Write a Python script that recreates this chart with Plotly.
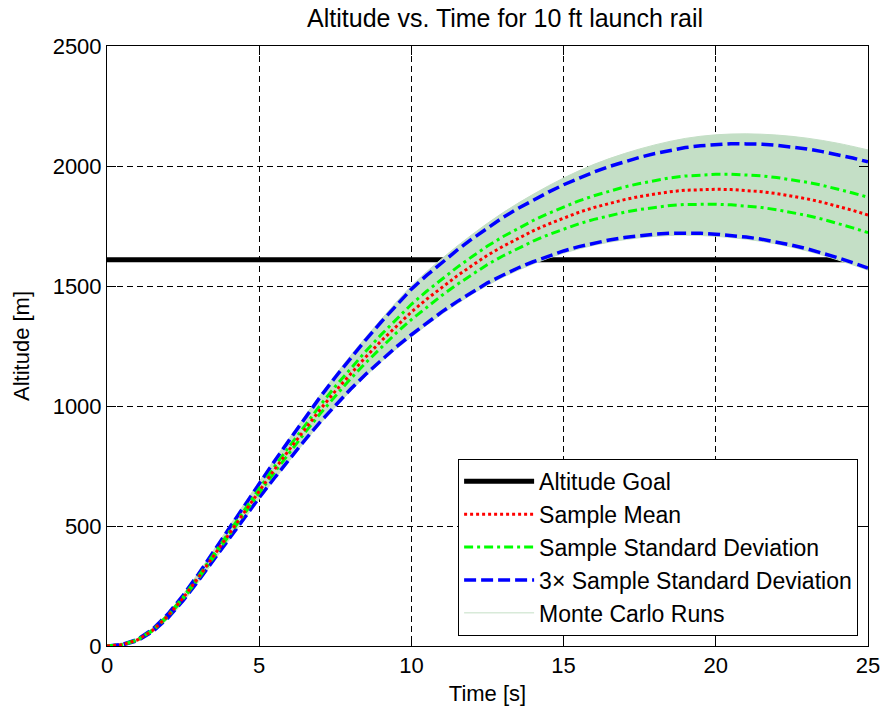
import plotly.graph_objects as go

# ---------------- data ----------------
time_s = [i * 0.5 for i in range(51)]  # 0 .. 25 s

sample_mean = [0, 5, 25, 65, 125, 200, 285, 375, 468, 560,
               648, 735, 820, 904, 985, 1062, 1135, 1204, 1270, 1333,
               1392, 1445, 1495, 1542, 1586, 1628, 1665, 1699, 1730, 1758,
               1784, 1807, 1827, 1845, 1860, 1873, 1884, 1893, 1899, 1902,
               1903, 1902, 1898, 1893, 1885, 1875, 1863, 1849, 1833, 1815,
               1796]

sample_std = [0, 0.3, 1, 1.7, 2.7, 3.7, 4.7, 6, 7.3, 8.7,
              10, 11.7, 13.3, 15.3, 17.3, 19.3, 21.7, 24, 26.3, 29,
              31.7, 33, 34.3, 35.7, 37, 38.3, 40, 41.3, 43, 44.3,
              46, 47.7, 49.3, 51, 52.7, 54.3, 56, 57.7, 59.3, 60.7,
              62.3, 63.7, 64.7, 66, 67, 68.3, 69.3, 70.3, 71.7, 72.7,
              73.7]

# envelope of the Monte Carlo runs (1 s spacing)
mc_time = list(range(26))
mc_top = [3, 32, 138, 304, 496, 685, 868, 1046, 1210, 1360,
          1500, 1614, 1715, 1805, 1882, 1950, 2007, 2052, 2088, 2115,
          2130, 2134, 2129, 2116, 2095, 2067]
mc_bottom = [0, 19, 112, 266, 440, 612, 773, 926, 1062, 1183,
             1288, 1383, 1466, 1536, 1592, 1637, 1670, 1693, 1707, 1712,
             1707, 1695, 1675, 1646, 1609, 1566]

goal_time = [0, 25]
altitude_goal = 1609

x_ticks = [0, 5, 10, 15, 20, 25]
y_ticks = [0, 500, 1000, 1500, 2000, 2500]

# ---------------- figure ----------------
FONT = "Liberation Sans, Arial, sans-serif"
MC_COLOR = "#c4dfc6"

fig = go.Figure()

# Altitude goal
fig.add_trace(go.Scatter(
    x=goal_time, y=[altitude_goal] * len(goal_time), mode="lines",
    line=dict(color="black", width=5), name="Altitude Goal", legendrank=1))

# Monte Carlo band
fig.add_trace(go.Scatter(
    x=mc_time, y=mc_bottom, mode="lines", line=dict(color=MC_COLOR, width=1, shape="spline"),
    showlegend=False, hoverinfo="skip"))
fig.add_trace(go.Scatter(
    x=mc_time, y=mc_top, mode="lines", line=dict(color=MC_COLOR, width=1, shape="spline"),
    fill="tonexty", fillcolor=MC_COLOR, showlegend=False, hoverinfo="skip"))
fig.add_trace(go.Scatter(
    x=[None], y=[None], mode="lines", line=dict(color=MC_COLOR, width=1),
    name="Monte Carlo Runs", legendrank=5))

# 3x sample std
up3 = [m + 3 * s for m, s in zip(sample_mean, sample_std)]
lo3 = [m - 3 * s for m, s in zip(sample_mean, sample_std)]
fig.add_trace(go.Scatter(
    x=time_s, y=up3, mode="lines", line=dict(color="#0000ff", width=3.5, dash="12px,5px"),
    name="3\u00d7 Sample Standard Deviation", legendgroup="s3", legendrank=4))
fig.add_trace(go.Scatter(
    x=time_s, y=lo3, mode="lines", line=dict(color="#0000ff", width=3.5, dash="12px,5px"),
    legendgroup="s3", showlegend=False))

# 1x sample std
up1 = [m + s for m, s in zip(sample_mean, sample_std)]
lo1 = [m - s for m, s in zip(sample_mean, sample_std)]
fig.add_trace(go.Scatter(
    x=time_s, y=up1, mode="lines", line=dict(color="#00ff00", width=3, dash="9px,4px,3px,4px"),
    name="Sample Standard Deviation", legendgroup="s1", legendrank=3))
fig.add_trace(go.Scatter(
    x=time_s, y=lo1, mode="lines", line=dict(color="#00ff00", width=3, dash="9px,4px,3px,4px"),
    legendgroup="s1", showlegend=False))

# sample mean
fig.add_trace(go.Scatter(
    x=time_s, y=sample_mean, mode="lines", line=dict(color="#ff0000", width=3, dash="3px,3px"),
    name="Sample Mean", legendrank=2))

axis_common = dict(
    showline=True, linecolor="black", linewidth=1, mirror="ticks",
    ticks="inside", ticklen=9, tickcolor="black", tickwidth=1,
    showgrid=True, gridcolor="black", gridwidth=1, griddash="6px,4px",
    zeroline=False, tickfont=dict(family=FONT, size=22, color="black"),
    automargin=False, ticklabeloverflow="allow",
)

fig.update_xaxes(range=[0, 25], tickvals=x_ticks, ticktext=[str(v) for v in x_ticks],
                 title=dict(text="Time [s]", font=dict(family=FONT, size=22, color="black"), standoff=8),
                 **axis_common)
fig.update_yaxes(range=[0, 2500], tickvals=y_ticks, ticktext=[str(v) for v in y_ticks],
                 title=dict(text="Altitude [m]", font=dict(family=FONT, size=22, color="black"), standoff=16),
                 **axis_common)

fig.update_layout(
    width=880, height=710,
    margin=dict(l=107, r=12, t=46, b=64),
    paper_bgcolor="white", plot_bgcolor="white",
    title=dict(text="Altitude vs. Time for 10 ft launch rail", x=0.574, xanchor="center",
               y=0.975, yanchor="middle", font=dict(family=FONT, size=25, color="black"),
               automargin=False),
    legend=dict(x=0.987, y=0.017, xanchor="right", yanchor="bottom",
                bgcolor="white", bordercolor="black", borderwidth=1,
                font=dict(family=FONT, size=23, color="black"),
                itemwidth=70, tracegroupgap=0, traceorder="normal"),
    showlegend=True,
)

fig.write_html("out.html", config={"displayModeBar": False},
               post_script="document.body.style.margin='0';document.body.style.padding='0';")
